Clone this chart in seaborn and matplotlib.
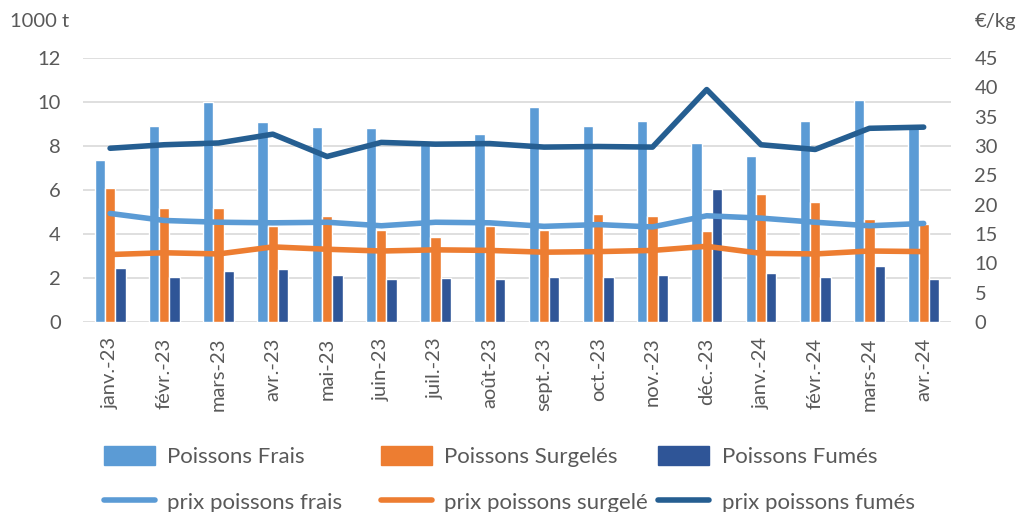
import pandas as pd
import matplotlib.pyplot as plt
import seaborn as sns
from matplotlib.patches import Patch
from matplotlib.lines import Line2D

months = ["janv.-23", "févr.-23", "mars-23", "avr.-23", "mai-23", "juin-23", "juil.-23", "août-23",
          "sept.-23", "oct.-23", "nov.-23", "déc.-23", "janv.-24", "févr.-24", "mars-24", "avr.-24"]

frais = [7.35, 8.9, 10.0, 9.1, 8.85, 8.8, 8.1, 8.55, 9.75, 8.9, 9.15, 8.15, 7.55, 9.15, 10.1, 8.8]
surgeles = [6.1, 5.2, 5.2, 4.35, 4.8, 4.2, 3.85, 4.35, 4.2, 4.9, 4.8, 4.15, 5.8, 5.45, 4.7, 4.45]
fumes = [2.45, 2.05, 2.3, 2.4, 2.15, 1.95, 2.0, 1.95, 2.05, 2.05, 2.15, 6.05, 2.25, 2.05, 2.55, 1.95]

prix_frais = [18.5, 17.3, 17.0, 16.9, 17.0, 16.4, 17.0, 16.9, 16.3, 16.6, 16.2, 18.1, 17.7, 17.0, 16.4, 16.8]
prix_surgele = [11.5, 11.8, 11.6, 12.8, 12.4, 12.1, 12.3, 12.2, 11.9, 12.0, 12.2, 12.9, 11.7, 11.6, 12.1, 12.0]
prix_fumes = [29.6, 30.2, 30.5, 32.0, 28.2, 30.6, 30.3, 30.4, 29.8, 29.9, 29.8, 39.6, 30.2, 29.4, 33.0, 33.2]

bar_names = ["Poissons Frais", "Poissons Surgelés", "Poissons Fumés"]
line_names = ["prix poissons frais", "prix poissons surgelé", "prix poissons fumés"]
bar_colors = ["#5b9bd5", "#ed7d31", "#2f5597"]
line_colors = ["#5b9bd5", "#ed7d31", "#255e91"]

sns.set_style("white")
plt.rcParams['font.family'] = ['Lato', 'DejaVu Sans']
txt = "#595959"

bars = pd.DataFrame({
    "mois": months * 3,
    "valeur": frais + surgeles + fumes,
    "type": sum([[n] * len(months) for n in bar_names], []),
})
lines = pd.DataFrame({
    "mois": months * 3,
    "prix": prix_frais + prix_surgele + prix_fumes,
    "type": sum([[n] * len(months) for n in line_names], []),
})

fig = plt.figure(figsize=(10.27, 5.12), dpi=100)
ax = fig.add_axes([0.0808, 0.371, 0.845, 0.516])

sns.barplot(data=bars, x="mois", y="valeur", hue="type", palette=bar_colors,
            width=0.57, saturation=1, ax=ax, legend=False)
ax.set_ylim(0, 12)
ax.set_yticks(range(0, 13, 2))
ax.yaxis.grid(True, color="#d9d9d9", linewidth=1.2)
ax.set_axisbelow(True)
ax.set_xlim(-0.5, len(months) - 0.5)
for s in ax.spines.values():
    s.set_visible(False)
ax.set_xlabel("")
ax.set_ylabel("")
ax.tick_params(axis="x", rotation=90, labelsize=14.5, colors=txt, length=0, pad=11)
ax.tick_params(axis="y", labelsize=14.5, colors=txt, length=0, pad=16)

ax2 = ax.twinx()
sns.lineplot(data=lines, x="mois", y="prix", hue="type", palette=line_colors,
             linewidth=4, ax=ax2, legend=False, sort=False)
ax2.set_ylim(0, 45)
ax2.set_yticks(range(0, 46, 5))
for s in ax2.spines.values():
    s.set_visible(False)
ax2.set_xlabel("")
ax2.set_ylabel("")
ax2.tick_params(axis="y", labelsize=14.5, colors=txt, length=0, pad=17)
ax2.set_xlim(-0.5, len(months) - 0.5)

fig.text(0.010, 0.958, "1000 t", fontsize=14.5, color=txt, va="center")
fig.text(0.949, 0.958, "€/kg", fontsize=14.5, color=txt, va="center")

# une légende par colonne, comme dans Excel (colonnes de largeur fixe)
col_x = [0.101, 0.371, 0.641]
for i in range(3):
    h = [Patch(color=bar_colors[i]),
         Line2D([], [], color=line_colors[i], linewidth=4, solid_capstyle="round")]
    fig.legend(h, [bar_names[i], line_names[i]], loc="upper left",
               bbox_to_anchor=(col_x[i], 0.128), frameon=False, fontsize=16,
               labelcolor=txt, handlelength=2.3, handleheight=0.9, handletextpad=0.55,
               labelspacing=1.1, borderpad=0, borderaxespad=0)

plt.savefig("out.png", dpi=100)
